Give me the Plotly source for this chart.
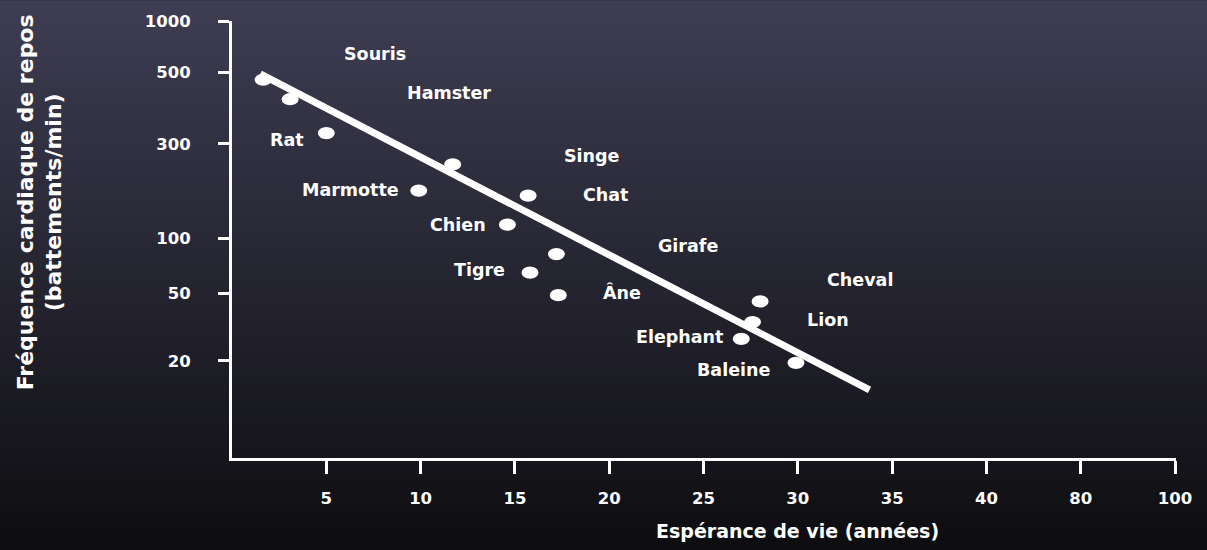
import numpy as np
import plotly.graph_objects as go

# animals, life expectancy (years) and resting heart rate (beats/min)
animals = ["Souris", "Hamster", "Rat", "Singe", "Marmotte", "Chat", "Chien",
           "Girafe", "Tigre", "Âne", "Cheval", "Lion", "Elephant", "Baleine"]
lifespan = [1.65, 3.08, 5.0, 11.7, 9.9, 15.7, 14.6, 17.2, 15.8, 17.3, 28.0, 27.6, 27.0, 29.9]
heart_rate = [475, 413, 324, 236, 174, 164, 117, 82, 65, 49, 45, 34, 27, 19.5]

# where each name sits on the chart (years, beats/min)
label_x = [7.6, 11.5, 2.9, 19.1, 6.3, 19.8, 12.0, 24.2, 13.1, 20.7, 33.3, 31.6, 23.7, 26.6]
label_y = [644, 431, 309, 261, 176, 166, 117, 91, 67, 51, 59, 35, 27.6, 17.7]

# trend line end points
trend_x = [1.5, 33.8]
trend_y = [495, 13.5]

# axis ticks
x_tickvals = [5, 10, 15, 20, 25, 30, 35, 40, 45, 50]
x_ticktext = ["5", "10", "15", "20", "25", "30", "35", "40", "80", "100"]
y_ticks = [1000, 500, 300, 100, 50, 20]
y_tick_pos = [10.0, 8.82, 7.19, 5.03, 3.76, 2.22]


def hr_to_pos(values):
    # piecewise log scale defined by the tick positions of the y axis
    lt = np.log10(y_ticks)[::-1]
    pt = np.array(y_tick_pos)[::-1]
    lv = np.log10(np.asarray(values, dtype=float))
    pos = np.interp(lv, lt, pt)
    lo = lv < lt[0]
    pos[lo] = pt[0] + (lv[lo] - lt[0]) * (pt[1] - pt[0]) / (lt[1] - lt[0])
    hi = lv > lt[-1]
    pos[hi] = pt[-1] + (lv[hi] - lt[-1]) * (pt[-1] - pt[-2]) / (lt[-1] - lt[-2])
    return pos


FONT = "DejaVu Sans"
W, H = 1207, 550
ML, MR, MT, MB = 232, 31, 17, 92
pw, ph = W - ML - MR, H - MT - MB

fig = go.Figure()

fig.add_trace(go.Scatter(
    x=trend_x, y=hr_to_pos(trend_y), mode="lines",
    line=dict(color="white", width=7), hoverinfo="skip", showlegend=False,
))

pts_y = hr_to_pos(heart_rate)
fig.add_trace(go.Scatter(
    x=lifespan, y=pts_y, mode="markers", text=animals,
    marker=dict(size=1, color="rgba(0,0,0,0)"), showlegend=False,
    hovertemplate="%{text}<extra></extra>",
))

shapes = []
# background gradient, drawn as thin overlapping bands over the whole page
top, bot = np.array([62, 61, 83]), np.array([14, 14, 17])
n = 110
for i in range(n):
    c = top + (bot - top) * i / (n - 1)
    p0 = i * H / n - (4 if i == 0 else 0)
    p1 = (i + 1) * H / n + (4 if i == n - 1 else 1)
    shapes.append(dict(type="rect", xref="paper", yref="paper", layer="below",
                       x0=-ML / pw - 0.02, x1=1 + MR / pw + 0.02,
                       y0=(H - MB - p0) / ph, y1=(H - MB - p1) / ph,
                       fillcolor=f"rgb({int(c[0])},{int(c[1])},{int(c[2])})", line_width=0))

# elliptical markers
for x, y in zip(lifespan, pts_y):
    shapes.append(dict(type="circle", xref="x", yref="y", layer="above",
                       x0=x - 0.45, x1=x + 0.45, y0=y - 0.14, y1=y + 0.14,
                       fillcolor="white", line_width=0))

annotations = []
for name, x, y in zip(animals, label_x, hr_to_pos(label_y)):
    annotations.append(dict(x=x, y=y, xref="x", yref="y", text=name, showarrow=False,
                            font=dict(family=FONT, size=17.5, color="white", weight="bold")))

annotations.append(dict(
    x=(797 - ML) / pw, y=(H - MB - 532) / ph, xref="paper", yref="paper",
    xanchor="center", yanchor="middle",
    text="Espérance de vie (années)", showarrow=False,
    font=dict(family=FONT, size=19, color="white", weight="bold"),
))
annotations.append(dict(
    x=(40 - ML) / pw, y=(H - MB - 200) / ph, xref="paper", yref="paper",
    xanchor="center", yanchor="middle",
    text="Fréquence cardiaque de repos<br>(battements/min)", showarrow=False, textangle=-90,
    font=dict(family=FONT, size=22, color="white", weight="bold"),
))

fig.update_layout(
    width=W, height=H,
    margin=dict(l=ML, r=MR, t=MT, b=MB),
    paper_bgcolor="#26252f",
    plot_bgcolor="rgba(0,0,0,0)",
    shapes=shapes,
    annotations=annotations,
    showlegend=False,
    xaxis=dict(
        range=[0, 50.05], tickvals=x_tickvals, ticktext=x_ticktext,
        showline=True, linecolor="white", linewidth=3,
        ticks="outside", ticklen=13, tickwidth=3, tickcolor="white",
        ticklabelstandoff=10, showgrid=False, zeroline=False,
        tickfont=dict(family=FONT, size=16.5, color="white", weight="bold"),
    ),
    yaxis=dict(
        range=[0, 10], tickvals=y_tick_pos, ticktext=[str(v) for v in y_ticks],
        showline=True, linecolor="white", linewidth=3,
        ticks="outside", ticklen=11, tickwidth=3, tickcolor="white",
        ticklabelstandoff=24, showgrid=False, zeroline=False,
        tickfont=dict(family=FONT, size=16.5, color="white", weight="bold"),
    ),
)

fig.write_html("out.html", config={"displayModeBar": False},
               post_script="document.body.style.margin='0px';")
